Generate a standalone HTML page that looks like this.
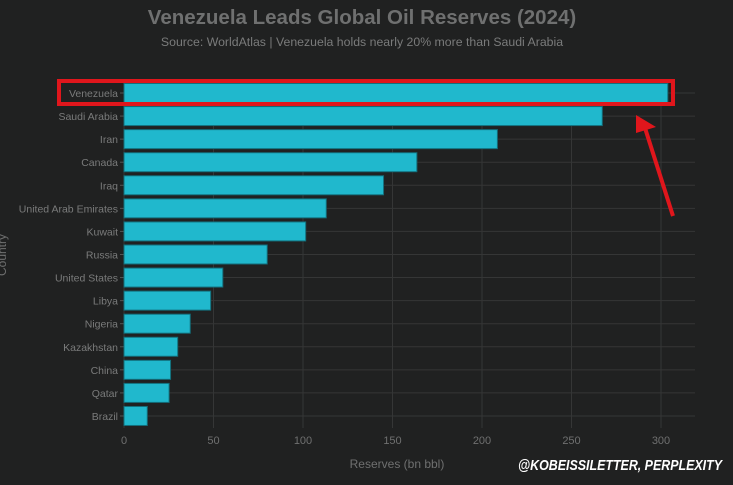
<!DOCTYPE html>
<html><head><meta charset="utf-8"><style>
body{margin:0;background:#202121;width:733px;height:480px;overflow:hidden;font-family:"Liberation Sans",sans-serif}
</style></head><body>
<svg id="c" width="733" height="480">
<text x="362" y="24" text-anchor="middle" fill="#6f7070" font-size="20.5" font-weight="bold">Venezuela Leads Global Oil Reserves (2024)</text>
<text x="362" y="46" text-anchor="middle" fill="#7a7b7b" font-size="12.3">Source: WorldAtlas | Venezuela holds nearly 20% more than Saudi Arabia</text>
<text x="397" y="468" text-anchor="middle" fill="#6f7070" font-size="12">Reserves (bn bbl)</text>
<text transform="translate(6,255) rotate(-90)" text-anchor="middle" fill="#6f7070" font-size="12">Country</text>
<g id="grid"></g><g id="bars"></g>
<rect x="59" y="81" width="614" height="23" fill="none" stroke="#e0161c" stroke-width="4"/>
<line x1="673" y1="216" x2="645" y2="128" stroke="#e0161c" stroke-width="4"/>
<polygon points="636,115 656,127 636,133" fill="#e0161c"/>
<text x="518" y="470" textLength="204" lengthAdjust="spacingAndGlyphs" fill="#ffffff" font-size="15" font-weight="bold" font-style="italic">@KOBEISSILETTER, PERPLEXITY</text>
</svg>
<script>
const countries=["Venezuela","Saudi Arabia","Iran","Canada","Iraq","United Arab Emirates","Kuwait","Russia","United States","Libya","Nigeria","Kazakhstan","China","Qatar","Brazil"];
const reserves=[303.8,267.2,208.6,163.6,145,113,101.5,80,55.2,48.4,37,30,26,25.2,13];
const ticks=[0,50,100,150,200,250,300];
const NS="http://www.w3.org/2000/svg";
const x0=124,pxPer=89.5/50,yTop=93,step=23.07,bh=19,plotTop=80,plotBot=428,plotRight=695;
const xs=v=>x0+v*pxPer, ys=i=>yTop+i*step;
function mk(t,a,p){const e=document.createElementNS(NS,t);for(const k in a)e.setAttribute(k,a[k]);p.appendChild(e);return e;}
const g=document.getElementById('grid'),b=document.getElementById('bars');
ticks.forEach(t=>{
 const l=mk('line',{x1:xs(t),x2:xs(t),y1:plotTop,y2:plotBot,stroke:'#353636','stroke-width':1},g);
 
 
 const tx=mk('text',{x:xs(t),y:plotBot+16,'text-anchor':'middle',fill:'#6f7070','font-size':11},g);
 tx.textContent=t;
 
 
});
countries.forEach((c,i)=>{
 const y=ys(i);
 const l=mk('line',{x1:x0,x2:plotRight,y1:y,y2:y,stroke:'#353636','stroke-width':1},g);
 
 
 const tk=mk('line',{x1:x0-4,x2:x0,y1:y,y2:y,stroke:'#555','stroke-width':1},g);
 
 
 const tx=mk('text',{x:x0-6,y:y+4,'text-anchor':'end',fill:'#7a7b7b','font-size':10.5},g);
 tx.textContent=c;
 
 
 const r=mk('rect',{x:x0,y:y-bh/2,width:xs(reserves[i])-x0,height:bh,fill:'#20b8cd',stroke:'#136f7c','stroke-width':1},b);
 
 
});
</script>
</body></html>
